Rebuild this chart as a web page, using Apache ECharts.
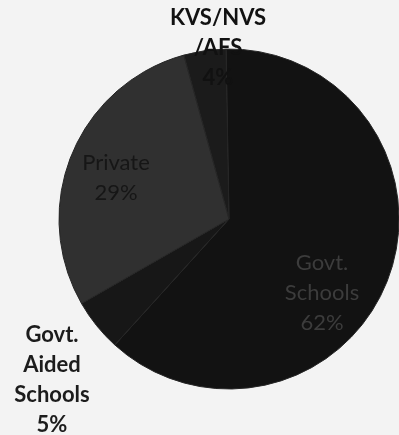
<!DOCTYPE html>
<html>
<head>
<meta charset="utf-8">
<script src="https://cdn.jsdelivr.net/npm/echarts@6/dist/echarts.min.js"></script>
<style>
html,body{margin:0;padding:0;background:#f3f3f3;}
#chart{width:399px;height:435px;}
</style>
</head>
<body>
<div id="chart"></div>
<script>
// Data
var categories = ['Govt.\nSchools', 'Govt.\nAided\nSchools', 'Private', 'KVS/NVS\n/AFS'];
var shares = [62, 5, 29, 4];

// Styles (kept apart from the data)
var sliceColors = ['#121212', '#171717', '#303030', '#1b1b1b'];
var labelColors = ['#3c3c3c', '#1c1c1c', '#161616', '#111111'];
var labelWeights = ['normal', 'bold', 'normal', 'bold'];
var labelPos = [[322, 293], [52, 380], [116, 178], [218, 48]];

var chart = echarts.init(document.getElementById('chart'), null, {renderer: 'canvas'});
var data = categories.map(function (c, i) {
  return {
    name: c,
    value: shares[i],
    itemStyle: {color: sliceColors[i]},
    label: {color: labelColors[i], fontWeight: labelWeights[i]}
  };
});

chart.setOption({
  backgroundColor: '#f3f3f3',
  animation: false,
  series: [{
    type: 'pie',
    center: [229, 219],
    radius: 170,
    startAngle: 91,
    clockwise: true,
    data: data,
    itemStyle: {borderColor: '#262626', borderWidth: 1},
    label: {
      show: true,
      position: 'inside',
      formatter: function (p) { return p.name + '\n' + p.value + '%'; },
      fontFamily: 'Lato',
      fontSize: 22,
      lineHeight: 30,
      align: 'center'
    },
    labelLine: {show: false},
    labelLayout: function (p) {
      var pos = labelPos[p.dataIndex];
      return {x: pos[0], y: pos[1], align: 'center', verticalAlign: 'middle'};
    },
    emphasis: {disabled: true}
  }]
});
</script>
</body>
</html>
